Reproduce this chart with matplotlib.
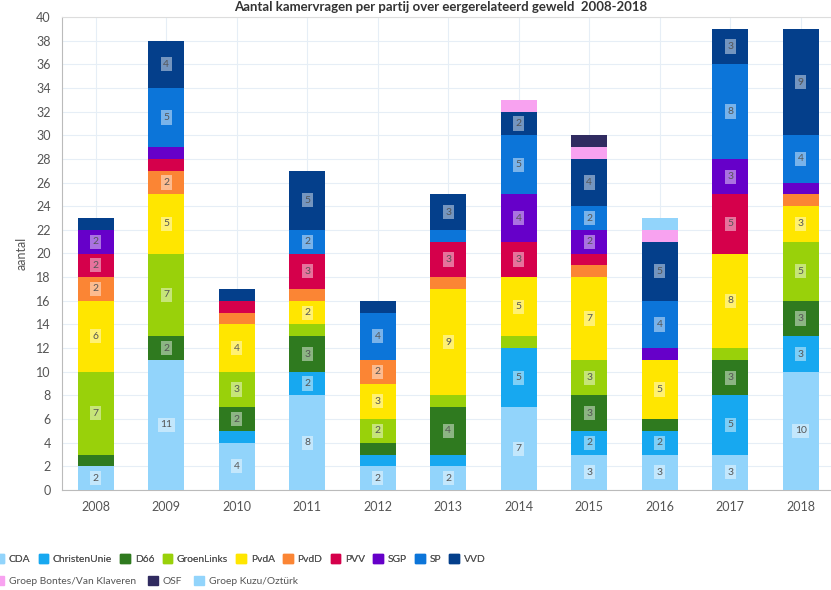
import numpy as np
import matplotlib.pyplot as plt
from matplotlib.patches import Patch

plt.rcParams['font.family'] = ['Lato', 'DejaVu Sans']

# data
jaren = ["2008", "2009", "2010", "2011", "2012", "2013", "2014", "2015", "2016", "2017", "2018"]
partijen = ["CDA", "ChristenUnie", "D66", "GroenLinks", "PvdA", "PvdD", "PVV", "SGP", "SP", "VVD",
            "Groep Bontes/Van Klaveren", "OSF", "Groep Kuzu/Oztürk"]

cda          = [2, 11, 4, 8, 2, 2, 7, 3, 3, 3, 10]
christenunie = [0, 0, 1, 2, 1, 1, 5, 2, 2, 5, 3]
d66          = [1, 2, 2, 3, 1, 4, 0, 3, 1, 3, 3]
groenlinks   = [7, 7, 3, 1, 2, 1, 1, 3, 0, 1, 5]
pvda         = [6, 5, 4, 2, 3, 9, 5, 7, 5, 8, 3]
pvdd         = [2, 2, 1, 1, 2, 1, 0, 1, 0, 0, 1]
pvv          = [2, 1, 1, 3, 0, 3, 3, 1, 0, 5, 0]
sgp          = [2, 1, 0, 0, 0, 0, 4, 2, 1, 3, 1]
sp           = [0, 5, 0, 2, 4, 1, 5, 2, 4, 8, 4]
vvd          = [1, 4, 1, 5, 1, 3, 2, 4, 5, 3, 9]
bontes       = [0, 0, 0, 0, 0, 0, 1, 1, 1, 0, 0]
osf          = [0, 0, 0, 0, 0, 0, 0, 1, 0, 0, 0]
kuzu         = [0, 0, 0, 0, 0, 0, 0, 0, 1, 0, 0]

reeksen = [cda, christenunie, d66, groenlinks, pvda, pvdd, pvv, sgp, sp, vvd, bontes, osf, kuzu]
kleuren = ["#92d4fb", "#17a8f0", "#2f7a1f", "#99d10a", "#ffe600", "#fb8534", "#d5004b",
           "#6600c9", "#0c75d9", "#043f8b", "#f8a2f0", "#302b60", "#92d4fb"]

fig = plt.figure(figsize=(8.31, 5.90), dpi=100)
ax = fig.add_axes([62/831, 1-490/590, 1-62/831, (490-17)/590])

x = np.arange(len(jaren))
bodem = np.zeros(len(jaren))
for naam, waarden, kleur in zip(partijen, reeksen, kleuren):
    w = np.array(waarden, dtype=float)
    ax.bar(x, w, 0.51, bottom=bodem, color=kleur, zorder=3)
    for i in range(len(x)):
        if w[i] >= 2:
            ax.text(x[i], bodem[i] + w[i]/2, str(int(w[i])), ha='center', va='center',
                    fontsize=7.5, color='#555555', zorder=4,
                    bbox=dict(boxstyle='square,pad=0.25', fc='white', ec='none', alpha=0.45))
    bodem += w

ax.set_xlim(-0.48, 10.43)
ax.set_ylim(0, 40)
ax.set_yticks(range(0, 41, 2))
ax.set_xticks(x)
ax.set_xticklabels(jaren)
ax.tick_params(length=0, labelsize=9, colors='#555555', pad=8)
ax.grid(True, color='#e6eef6', lw=0.8, zorder=0)
ax.spines['right'].set_visible(False)
ax.spines['top'].set_color('#dddddd')
ax.spines['left'].set_color('#bbbbbb')
ax.spines['bottom'].set_color('#bbbbbb')
ax.set_ylabel("aantal", fontsize=9, color='#555555', labelpad=6)

fig.text(0.53, 0.999, "Aantal kamervragen per partij over eergerelateerd geweld  2008-2018",
         ha='center', va='top', fontsize=9.5, fontweight='bold', color='#333333')

# legenda in twee rijen
h1 = [Patch(color=k) for k in kleuren[:10]]
h2 = [Patch(color=k) for k in kleuren[10:]]
leg1 = fig.legend(h1, partijen[:10], loc='center left', bbox_to_anchor=(-0.018, 1-559/590),
                  ncol=10, frameon=False, fontsize=7.4, handlelength=0.95, handleheight=0.95,
                  handletextpad=0.45, columnspacing=0.8, labelcolor='#555555')
fig.legend(h2, partijen[10:], loc='center left', bbox_to_anchor=(-0.018, 1-581/590),
           ncol=3, frameon=False, fontsize=7.4, handlelength=0.95, handleheight=0.95,
           handletextpad=0.45, columnspacing=1.2, labelcolor='#555555')
fig.add_artist(leg1)

plt.savefig("out.png", dpi=100)
plt.close()
